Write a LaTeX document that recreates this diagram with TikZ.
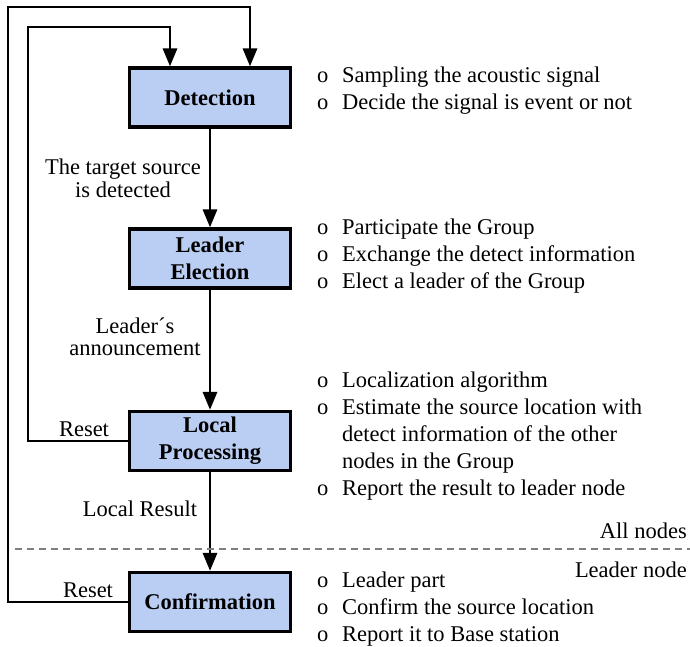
\documentclass[tikz,border=0pt]{standalone}
\usepackage{fontspec}
\setmainfont{Liberation Serif}
\usetikzlibrary{arrows.meta}
\definecolor{boxblue}{RGB}{186,205,243}

\begin{document}
\begin{tikzpicture}[x=1pt,y=-1pt,
    stage/.style={draw,line width=3.2pt,fill=boxblue,minimum width=161pt,minimum height=59pt,
        align=center,inner sep=0pt,font=\fontsize{22.5}{27}\selectfont\bfseries},
    flow/.style={line width=2.9pt,-{Triangle[length=18pt,width=14pt]}},
    lbl/.style={anchor=base,inner sep=0pt,font=\fontsize{22.5}{22}\selectfont},
    items/.style={anchor=base west,inner sep=0pt,font=\fontsize{22.5}{27}\selectfont}]
\useasboundingbox (0,0) rectangle (690,647);

% the four stages
\node[stage] (det) at (210,97.5) {Detection};
\node[stage] (elect) at (210,258.5) {Leader\\Election};
\node[stage] (proc) at (210,441) {Local\\Processing};
\node[stage] (conf) at (210,602) {Confirmation};

\coordinate (inner) at (28,27);
\coordinate (outer) at (8,7);

\draw[flow] (det) -- (elect);
\draw[flow] (elect) -- (proc);
\draw[flow] (proc) -- (conf);
\draw[flow] (proc.west) -| (inner) -| ([xshift=-40pt]det.north);
\draw[flow] (conf.west) -| (outer) -| ([xshift=40pt]det.north);

\node[lbl] at (123,175) {\begin{tabular}[t]{@{}c@{}}The target source\\is detected\end{tabular}};
\node[lbl] at (135,333) {\begin{tabular}[t]{@{}c@{}}Leader´s\\announcement\end{tabular}};
\node[lbl] at (84,436) {Reset};
\node[lbl] at (140,516) {Local Result};
\node[lbl] at (88,597) {Reset};

% all nodes / leader node split
\draw[gray,line width=1.3pt,dash pattern=on 7pt off 5pt] (15,549) -- (690,549);
\node[lbl,anchor=base east] at (687,538) {All nodes};
\node[lbl,anchor=base east] at (687,577) {Leader node};

% what each stage does
\node[items] at (317,83) {\begin{tabular}[t]{@{}p{25pt}@{}l@{}}
o & Sampling the acoustic signal\\
o & Decide the signal is event or not
\end{tabular}};
\node[items] at (317,234) {\begin{tabular}[t]{@{}p{25pt}@{}l@{}}
o & Participate the Group\\
o & Exchange the detect information\\
o & Elect a leader of the Group
\end{tabular}};
\node[items] at (317,387) {\begin{tabular}[t]{@{}p{25pt}@{}l@{}}
o & Localization algorithm\\
o & Estimate the source location with\\
  & detect information of the other\\
  & nodes in the Group\\
o & Report the result to leader node
\end{tabular}};
\node[items] at (317,587) {\begin{tabular}[t]{@{}p{25pt}@{}l@{}}
o & Leader part\\
o & Confirm the source location\\
o & Report it to Base station
\end{tabular}};
\end{tikzpicture}
\end{document}
